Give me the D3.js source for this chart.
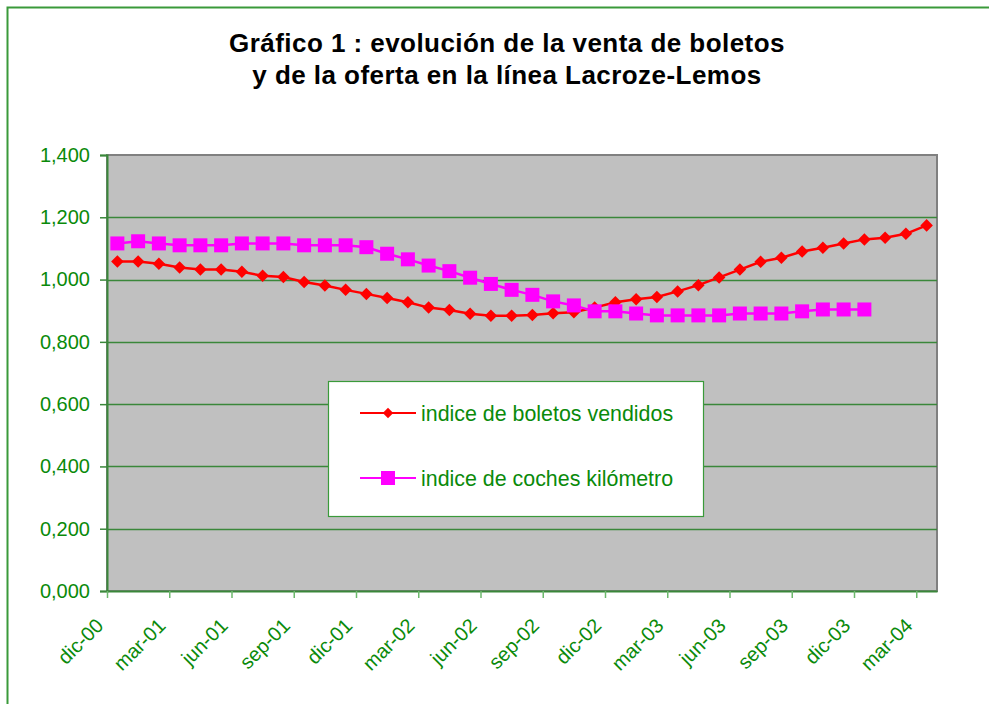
<!DOCTYPE html>
<html>
<head>
<meta charset="utf-8">
<script src="https://cdn.jsdelivr.net/npm/d3@7"></script>
<style>
  body { margin: 0; background: #fff; }
  svg { display: block; font-family: "Liberation Sans", Arial, sans-serif; }
</style>
</head>
<body>
<div id="chart"></div>
<script>
// monthly categories, dic-00 .. mar-04
const months = [
  "dic-00", "ene-01", "feb-01", "mar-01", "abr-01", "may-01", "jun-01", "jul-01", "ago-01", "sep-01",
  "oct-01", "nov-01", "dic-01", "ene-02", "feb-02", "mar-02", "abr-02", "may-02", "jun-02", "jul-02",
  "ago-02", "sep-02", "oct-02", "nov-02", "dic-02", "ene-03", "feb-03", "mar-03", "abr-03", "may-03",
  "jun-03", "jul-03", "ago-03", "sep-03", "oct-03", "nov-03", "dic-03", "ene-04", "feb-04", "mar-04"
];

// labels shown on the axis (every 3rd month)
const tickLabels = [
  "dic-00", "mar-01", "jun-01", "sep-01", "dic-01", "mar-02", "jun-02",
  "sep-02", "dic-02", "mar-03", "jun-03", "sep-03", "dic-03", "mar-04"
];

const boletos = [
  1.058, 1.058, 1.051, 1.039, 1.032, 1.032, 1.025, 1.012, 1.008, 0.992,
  0.981, 0.967, 0.954, 0.941, 0.927, 0.910, 0.902, 0.890, 0.884, 0.884,
  0.886, 0.892, 0.895, 0.910, 0.927, 0.937, 0.944, 0.962, 0.982, 1.007,
  1.032, 1.057, 1.070, 1.090, 1.102, 1.116, 1.129, 1.134, 1.147, 1.174
];

const coches = [
  1.116, 1.123, 1.116, 1.110, 1.110, 1.110, 1.116, 1.116, 1.116, 1.110,
  1.110, 1.110, 1.104, 1.083, 1.065, 1.045, 1.027, 1.006, 0.986, 0.967,
  0.951, 0.930, 0.917, 0.898, 0.898, 0.891, 0.885, 0.885, 0.885, 0.885,
  0.891, 0.891, 0.891, 0.898, 0.904, 0.904, 0.904
];

const yTicks = [0, 0.2, 0.4, 0.6, 0.8, 1.0, 1.2, 1.4];

const width = 989, height = 704;
const green = "#0a8a0a";
const gridGreen = "#3a873a";

const svg = d3.select("#chart")
  .append("svg")
  .attr("width", width)
  .attr("height", height);

// outer chart border
svg.append("rect")
  .attr("x", 7.5).attr("y", 7.5)
  .attr("width", 1100).attr("height", 800)
  .attr("fill", "#fff")
  .attr("stroke", "#3a9a3a")
  .attr("stroke-width", 2);

// title
const title = svg.append("text")
  .attr("text-anchor", "middle")
  .attr("font-size", 26)
  .attr("letter-spacing", 0.45)
  .attr("font-weight", "bold")
  .attr("fill", "#000");
title.append("tspan").attr("x", 507).attr("y", 52).text("Gráfico 1 : evolución de la venta de boletos");
title.append("tspan").attr("x", 507).attr("y", 84).text("y de la oferta en la línea Lacroze-Lemos");

const plot = { left: 107, right: 937, top: 155, bottom: 591 };

const x = d3.scaleLinear()
  .domain([0, months.length])
  .range([plot.left, plot.right]);

const y = d3.scaleLinear()
  .domain([0, 1.4])
  .range([plot.bottom, plot.top]);

const locale = d3.formatLocale({ decimal: ",", thousands: ".", grouping: [3], currency: ["$", ""] });
const fmt = locale.format(".3f");

// plot background
svg.append("rect")
  .attr("x", plot.left).attr("y", plot.top)
  .attr("width", plot.right - plot.left)
  .attr("height", plot.bottom - plot.top)
  .attr("fill", "#c0c0c0")
  .attr("stroke", "#808080")
  .attr("stroke-width", 2);

// gridlines
svg.append("g")
  .selectAll("line")
  .data(yTicks.filter(d => d > 0 && d < 1.4))
  .join("line")
  .attr("x1", plot.left).attr("x2", plot.right)
  .attr("y1", d => Math.round(y(d)) + 0.5)
  .attr("y2", d => Math.round(y(d)) + 0.5)
  .attr("stroke", gridGreen)
  .attr("stroke-width", 1.5);

// y axis
const yAxis = svg.append("g")
  .attr("transform", `translate(${plot.left},0)`)
  .call(d3.axisLeft(y).tickValues(yTicks).tickFormat(fmt).tickSize(7).tickPadding(10));
yAxis.select(".domain").attr("stroke", gridGreen).attr("stroke-width", 2);
yAxis.selectAll(".tick line").attr("stroke", gridGreen).attr("stroke-width", 1.5);
yAxis.selectAll("text")
  .attr("fill", green)
  .attr("font-size", 20)
  .attr("font-family", "Liberation Sans, Arial, sans-serif");

// x axis
const tickIdx = tickLabels.map(l => months.indexOf(l));
const xAxis = svg.append("g")
  .attr("transform", `translate(0,${plot.bottom})`)
  .call(d3.axisBottom(x).tickValues(tickIdx).tickFormat(d => months[d]).tickSize(7).tickSizeOuter(0));
xAxis.select(".domain").attr("stroke", gridGreen).attr("stroke-width", 2);
xAxis.selectAll(".tick line").attr("stroke", "#6cb86c").attr("stroke-width", 1.5);
xAxis.selectAll("text")
  .attr("fill", green)
  .attr("font-size", 20)
  .attr("font-family", "Liberation Sans, Arial, sans-serif")
  .attr("text-anchor", "end")
  .attr("dy", null)
  .attr("y", null)
  .attr("transform", "translate(-3,36) rotate(-45)");

const cx = (d, i) => x(i + 0.5);

const line = d3.line()
  .x((d, i) => x(i + 0.5))
  .y(d => y(d));

const diamond = d3.symbol().type(d3.symbolDiamond2).size(100);
const square = d3.symbol().type(d3.symbolSquare).size(196);

// boletos line
svg.append("path")
  .datum(boletos)
  .attr("fill", "none")
  .attr("stroke", "#ff0000")
  .attr("stroke-width", 2.5)
  .attr("d", line);

// coches line
svg.append("path")
  .datum(coches)
  .attr("fill", "none")
  .attr("stroke", "#ff00ff")
  .attr("stroke-width", 2.5)
  .attr("d", line);

svg.append("g")
  .selectAll("path")
  .data(boletos)
  .join("path")
  .attr("transform", (d, i) => `translate(${cx(d, i)},${y(d)})`)
  .attr("d", diamond)
  .attr("fill", "#ff0000");

svg.append("g")
  .selectAll("path")
  .data(coches)
  .join("path")
  .attr("transform", (d, i) => `translate(${cx(d, i)},${y(d)})`)
  .attr("d", square)
  .attr("fill", "#ff00ff");

// legend
const legend = svg.append("g");
legend.append("rect")
  .attr("x", 328.5).attr("y", 381.5)
  .attr("width", 375).attr("height", 135)
  .attr("fill", "#fff")
  .attr("stroke", "#3a9a3a")
  .attr("stroke-width", 1.2);

const legendItems = [
  { name: "indice de boletos vendidos", color: "#ff0000", sym: d3.symbol().type(d3.symbolDiamond2).size(70), y: 413 },
  { name: "indice de coches kilómetro", color: "#ff00ff", sym: d3.symbol().type(d3.symbolSquare).size(196), y: 478 }
];

const li = legend.selectAll("g.item")
  .data(legendItems)
  .join("g")
  .attr("class", "item")
  .attr("transform", d => `translate(0,${d.y})`);
li.append("line")
  .attr("x1", 360).attr("x2", 416)
  .attr("stroke", d => d.color)
  .attr("stroke-width", 2);
li.append("path")
  .attr("transform", "translate(388,0)")
  .attr("d", d => d.sym())
  .attr("fill", d => d.color);
li.append("text")
  .attr("x", 421)
  .attr("dy", "0.35em")
  .attr("font-size", 21.4)
  .attr("fill", green)
  .text(d => d.name);
</script>
</body>
</html>
